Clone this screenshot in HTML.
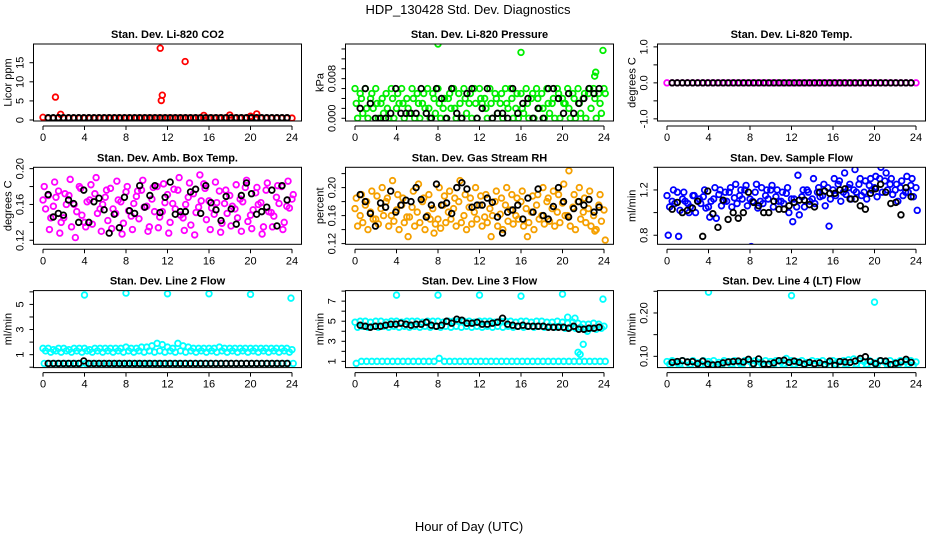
<!DOCTYPE html>
<html><head><meta charset="utf-8"><style>
html,body{margin:0;padding:0;background:#fff}
svg{display:block;font-family:"Liberation Sans",Arial,sans-serif}
</style></head><body>
<svg id="c" width="936" height="540" viewBox="0 0 936 540">
<text x="468" y="14" font-size="13" text-anchor="middle">HDP_130428  Std. Dev. Diagnostics</text>
<text x="469" y="531" font-size="13" text-anchor="middle">Hour of Day (UTC)</text>
</svg>
<script>
const hoursTicks=[0,4,8,12,16,20,24];
const titles=["Stan. Dev. Li-820 CO2","Stan. Dev. Li-820 Pressure","Stan. Dev. Li-820 Temp.","Stan. Dev. Amb. Box Temp.","Stan. Dev. Gas Stream RH","Stan. Dev. Sample Flow","Stan. Dev. Line 2 Flow","Stan. Dev. Line 3 Flow","Stan. Dev. Line 4 (LT) Flow"];
const ylabs=["Licor ppm","kPa","degrees C","degrees C","percent","ml/min","ml/min","ml/min","ml/min"];
const colors=["#ff0000","#00ee00","#ff00ff","#ff00ff","#f5a000","#0000ff","#00ffff","#00ffff","#00ffff"];
const yDomains=[[-0.26,19.9],[-0.00055,0.0150],[-1.06,1.08],[0.1155,0.2015],[0.119,0.229],[0.72,1.4],[-0.03,6.1],[0.38,8.05],[0.074,0.2516]];
const yTicks=[[0,5,10,15],[0,0.002,0.004,0.006,0.008,0.010,0.012,0.014],[-1,-0.5,0,0.5,1],[0.12,0.14,0.16,0.18,0.20],[0.12,0.14,0.16,0.18,0.20,0.22],[0.8,1.0,1.2,1.4],[0,1,2,3,4,5,6],[1,2,3,4,5,6,7,8],[0.10,0.15,0.20,0.25]];
const yTickLabels=[["0","5","10","15"],["0.000","","","","0.008","","",""],["-1.0","","0.0","","1.0"],["0.12","","0.16","","0.20"],["0.12","","0.16","","0.20",""],["0.8","","1.2",""],["","1","","3","","5",""],["1","","3","","5","","7",""],["0.10","","0.20",""]];

const co2A=[0.7,0.5,0.5,0.6,0.5,0.5,0.5,0.5,0.5,0.5,0.5,0.5,0.5,0.5,0.5,0.5,0.5,0.5,0.5,0.5,0.5,0.5,0.5,0.5,0.5,0.5,0.5,0.5,0.5,0.5,0.5,0.5,0.5,0.5,0.5,0.5,0.5,0.5,0.5,0.5,0.5,0.5,0.5,0.5,0.5,0.5,0.5,0.5,0.5];
const co2OutH=[1.2,1.7,11.3,11.4,11.5,13.7,15.5,18.0,20.0,20.6];
const co2OutV=[6.0,1.5,18.8,5.1,6.5,15.3,1.2,1.3,1.0,1.6];
const co2Blk=[0.6,0.6,0.6,0.6,0.6,0.6,0.6,0.6,0.6,0.6,0.6,0.6,0.6,0.6,0.6,0.6,0.6,0.6,0.6,0.6,0.6,0.6,0.6,0.6,0.6,0.6,0.6,0.6,0.6,0.6,0.6,0.6,0.6,0.6,0.6,0.6,0.6,0.6,0.6,0.6,0.6,0.6,0.6,0.6,0.6,0.6,0.6,0.6];

const prA=[0.006,0.005,0.006,0.004,0.006,0.003,0.005,0.006,0.002,0.006,0.004,0.006,0.005,0.003,0.006,0.005,0.006,0.002,0.004,0.006,0.005,0.006,0.003,0.006,0.006,0.004,0.006,0.005,0.003,0.006,0.006,0.002,0.005,0.006,0.004,0.006,0.005,0.006,0.003,0.006,0.004,0.006,0.005,0.006,0.004,0.005,0.006,0.005,0.006];
const prB=[0,0.001,0,0.002,0,0.001,0,0,0.003,0,0.001,0,0,0.002,0,0.001,0,0,0.002,0,0,0.001,0,0,0.003,0,0,0.001,0,0.002,0,0,0.001,0,0,0.002,0,0.001,0,0,0.003,0,0,0.001,0,0.002,0,0.001,0];
const prC=[0.003,0.004,0.002,0.005,0.003,0.004,0.002,0.004,0.005,0.003,0.002,0.004,0.003,0.005,0.002,0.004,0.003,0.004,0.005,0.002,0.003,0.004,0.005,0.003,0.004,0.002,0.003,0.004,0.005,0.003,0.004,0.005,0.002,0.003,0.005,0.004,0.002,0.003,0.004,0.005,0.003,0.002,0.004,0.003,0.005,0.006,0.004,0.003,0.005];
const prOutH=[8.0,16.0,23.9,23.2,23.1];
const prOutV=[0.0150,0.0133,0.0137,0.0093,0.0085];
const prBlk=[0.002,0.006,0.003,0,0,0,0.001,0.006,0.001,0.001,0.001,0.001,0.006,0.001,0,0.006,0.004,0,0.006,0.001,0,0.005,0.006,0,0.002,0.006,0,0.001,0.001,0,0.006,0.001,0.003,0.004,0,0.002,0,0.006,0.006,0.004,0.001,0.005,0.001,0.003,0.004,0.006,0.005,0.006];

const tmA=[0,0,0,0,0,0,0,0,0,0,0,0,0,0,0,0,0,0,0,0,0,0,0,0,0,0,0,0,0,0,0,0,0,0,0,0,0,0,0,0,0,0,0,0,0,0,0,0,0];
const tmBlk=[0,0,0,0,0,0,0,0,0,0,0,0,0,0,0,0,0,0,0,0,0,0,0,0,0,0,0,0,0,0,0,0,0,0,0,0,0,0,0,0,0,0,0,0,0,0,0,0];

const abA=[0.165,0.17,0.158,0.175,0.145,0.17,0.16,0.18,0.14,0.165,0.172,0.155,0.168,0.178,0.15,0.163,0.174,0.147,0.169,0.176,0.158,0.166,0.18,0.152,0.171,0.161,0.176,0.145,0.168,0.172,0.157,0.183,0.164,0.149,0.175,0.161,0.17,0.155,0.166,0.179,0.148,0.173,0.162,0.176,0.151,0.168,0.18,0.158,0.166];
const abB=[0.155,0.145,0.168,0.14,0.16,0.135,0.152,0.148,0.163,0.138,0.15,0.16,0.142,0.155,0.165,0.139,0.153,0.161,0.144,0.157,0.135,0.152,0.146,0.162,0.14,0.155,0.148,0.16,0.137,0.151,0.164,0.143,0.156,0.162,0.139,0.15,0.158,0.145,0.163,0.141,0.154,0.16,0.135,0.152,0.147,0.161,0.14,0.156,0.15];
const abC=[0.18,0.132,0.185,0.128,0.172,0.188,0.123,0.178,0.135,0.182,0.19,0.13,0.176,0.133,0.186,0.127,0.18,0.132,0.175,0.187,0.13,0.179,0.134,0.183,0.128,0.177,0.19,0.131,0.184,0.126,0.193,0.178,0.132,0.185,0.129,0.176,0.136,0.182,0.13,0.187,0.133,0.179,0.127,0.184,0.135,0.181,0.132,0.186,0.171];
const abBlk=[0.171,0.146,0.15,0.148,0.165,0.161,0.14,0.176,0.14,0.163,0.167,0.154,0.128,0.149,0.134,0.168,0.153,0.15,0.181,0.157,0.17,0.181,0.151,0.168,0.185,0.149,0.152,0.152,0.174,0.177,0.15,0.181,0.162,0.154,0.142,0.169,0.155,0.138,0.17,0.184,0.172,0.149,0.152,0.157,0.176,0.136,0.181,0.165];

const rhA=[0.17,0.16,0.175,0.165,0.155,0.17,0.18,0.16,0.168,0.175,0.158,0.172,0.165,0.18,0.16,0.17,0.155,0.175,0.165,0.17,0.18,0.16,0.172,0.165,0.175,0.158,0.17,0.18,0.162,0.175,0.168,0.16,0.18,0.17,0.165,0.175,0.16,0.18,0.17,0.165,0.178,0.16,0.172,0.18,0.165,0.17,0.16,0.175,0.168];
const rhB=[0.145,0.15,0.14,0.155,0.148,0.16,0.145,0.152,0.14,0.15,0.158,0.145,0.15,0.14,0.155,0.148,0.142,0.15,0.155,0.145,0.15,0.14,0.148,0.155,0.145,0.15,0.16,0.145,0.14,0.152,0.148,0.155,0.145,0.15,0.14,0.155,0.148,0.152,0.145,0.15,0.16,0.145,0.14,0.155,0.15,0.145,0.14,0.152,0.15];
const rhC=[0.185,0.19,0.18,0.195,0.188,0.2,0.185,0.21,0.19,0.185,0.13,0.195,0.205,0.185,0.19,0.135,0.2,0.188,0.195,0.185,0.21,0.19,0.185,0.2,0.188,0.19,0.13,0.195,0.185,0.2,0.19,0.185,0.195,0.13,0.188,0.19,0.2,0.185,0.195,0.19,0.205,0.224,0.19,0.2,0.185,0.195,0.138,0.19,0.125];
const rhBlk=[0.19,0.18,0.163,0.145,0.178,0.172,0.195,0.165,0.175,0.182,0.18,0.2,0.183,0.158,0.175,0.205,0.175,0.178,0.163,0.2,0.207,0.198,0.172,0.175,0.175,0.185,0.179,0.158,0.135,0.165,0.168,0.175,0.155,0.185,0.165,0.198,0.16,0.155,0.173,0.2,0.18,0.158,0.17,0.18,0.175,0.183,0.165,0.172];

const sfA=[1.15,1.1,1.18,1.12,1.08,1.15,1.1,1.14,1.05,1.12,1.16,1.1,1.18,1.13,1.15,1.2,1.12,1.18,1.1,1.15,1.2,1.14,1.1,1.17,1.12,1.05,1.14,1.2,1.12,1.18,1.15,1.22,1.2,1.25,1.18,1.22,1.2,1.25,1.18,1.24,1.22,1.3,1.28,1.25,1.2,1.22,1.18,1.24,1.22];
const sfB=[1.05,1.08,1.02,1.1,1.05,1.0,1.08,1.04,1.1,0.95,1.06,1.1,1.05,1.08,1.12,1.06,1.1,1.04,1.08,1.12,1.05,1.1,1.08,1.0,1.12,0.98,1.05,1.1,1.08,1.14,1.06,1.12,1.15,1.1,1.16,1.12,1.18,1.15,1.12,1.2,1.14,1.18,1.2,1.16,1.1,1.15,1.18,1.14,1.12];
const sfC=[0.8,1.2,0.79,1.18,1.0,1.15,1.12,1.2,0.96,1.22,1.2,1.18,1.22,1.25,1.2,1.24,0.7,1.25,1.22,1.2,1.24,1.2,1.18,1.22,0.92,1.33,1.2,1.18,1.3,1.22,1.25,0.88,1.3,1.28,1.35,1.25,1.38,1.3,1.28,1.3,1.32,1.4,1.35,1.3,1.25,1.28,1.32,1.3,1.02];
const sfBlk=[1.03,1.09,1.0,1.02,1.04,1.1,0.79,1.19,0.99,0.87,1.11,0.94,1.0,0.95,1.0,1.18,1.09,1.06,1.0,1.0,1.1,1.03,1.03,1.06,1.09,1.11,1.11,1.07,1.05,1.18,1.19,1.17,1.17,1.2,1.21,1.12,1.12,1.06,1.03,1.17,1.21,1.25,1.18,1.08,1.09,0.98,1.22,1.14];

const l2A=[1.5,1.5,1.4,1.5,1.5,1.4,1.5,1.5,1.5,1.4,1.5,1.5,1.5,1.5,1.5,1.5,1.6,1.5,1.5,1.6,1.6,1.7,1.9,1.8,1.6,1.5,1.9,1.7,1.6,1.5,1.5,1.5,1.5,1.5,1.6,1.5,1.5,1.5,1.5,1.5,1.5,1.5,1.5,1.5,1.5,1.5,1.5,1.5,1.4];
const l2B=[1.3,1.2,1.3,1.2,1.3,1.2,1.3,1.2,1.3,1.2,1.3,1.2,1.3,1.2,1.3,1.2,1.3,1.2,1.3,1.2,1.3,1.2,1.3,1.2,1.3,1.2,1.3,1.2,1.3,1.2,1.3,1.2,1.3,1.2,1.3,1.2,1.3,1.2,1.3,1.2,1.3,1.2,1.3,1.2,1.3,1.2,1.3,1.2,1.1];
const l2C=[0.3,0.3,0.3,0.3,0.3,0.3,0.3,0.3,0.3,0.3,0.3,0.3,0.3,0.3,0.3,0.3,0.3,0.3,0.3,0.3,0.3,0.3,0.3,0.3,0.3,0.3,0.3,0.3,0.3,0.3,0.3,0.3,0.3,0.3,0.3,0.3,0.3,0.3,0.3,0.3,0.3,0.3,0.3,0.3,0.3,0.3,0.3,0.3,0.3];
const l2OutH=[4.0,8.0,12.0,16.0,20.0,23.9];
const l2OutV=[5.75,5.9,5.85,5.85,5.8,5.5];
const l2Blk=[0.3,0.3,0.3,0.3,0.3,0.3,0.3,0.5,0.3,0.3,0.3,0.3,0.3,0.3,0.3,0.3,0.3,0.3,0.3,0.3,0.3,0.3,0.3,0.3,0.3,0.3,0.3,0.3,0.3,0.3,0.3,0.3,0.3,0.3,0.3,0.3,0.3,0.3,0.3,0.3,0.3,0.3,0.3,0.3,0.3,0.3,0.3,0.3];

const l3A=[4.9,5.0,5.0,4.9,5.0,5.0,4.9,5.0,5.0,4.9,5.0,5.0,5.0,4.9,5.0,5.0,5.0,4.9,5.0,5.0,5.0,5.0,5.0,4.9,5.0,5.0,5.0,4.9,5.0,5.0,5.0,4.9,5.0,5.0,4.9,5.0,5.0,4.9,4.9,5.0,4.9,4.8,4.9,4.8,4.7,4.7,4.8,4.7,4.5];
const l3B=[4.4,4.5,4.4,4.5,4.4,4.5,4.4,4.5,4.4,4.5,4.4,4.5,4.4,4.5,4.4,4.5,4.4,4.5,4.4,4.5,4.4,4.5,4.4,4.5,4.4,4.5,4.4,4.5,4.4,4.5,4.4,4.5,4.4,4.5,4.4,4.5,4.4,4.5,4.4,4.5,4.3,4.4,4.3,4.4,4.2,4.3,4.2,4.3,4.3];
const l3C=[0.8,1.0,1.0,1.0,1.0,1.0,1.0,1.0,1.0,1.0,1.0,1.0,1.0,1.0,1.0,1.0,1.3,1.0,1.0,1.0,1.0,1.0,1.0,1.0,1.0,1.0,1.0,1.0,1.0,1.0,1.0,1.0,1.0,1.0,1.0,1.0,1.0,1.0,1.0,1.0,1.0,1.0,1.0,1.0,1.0,1.0,1.0,1.0,1.0];
const l3OutH=[4.0,8.0,12.0,16.0,20.0,23.9,21.5,21.7,22.0,22.4,20.5,21.2];
const l3OutV=[7.6,7.6,7.6,7.5,7.7,7.2,1.9,1.7,2.7,4.0,5.4,5.3];
const l3Blk=[4.6,4.5,4.4,4.5,4.5,4.6,4.7,4.7,4.8,4.7,4.6,4.7,4.7,4.9,4.6,4.5,4.6,5.0,4.8,5.2,5.1,4.8,4.8,4.9,4.7,4.7,4.8,4.9,5.3,4.7,4.6,4.5,4.6,4.5,4.5,4.5,4.5,4.4,4.4,4.4,4.4,4.3,4.5,4.2,4.2,4.3,4.3,4.4];

const l4A=[0.088,0.09,0.085,0.09,0.087,0.09,0.085,0.09,0.088,0.09,0.086,0.09,0.088,0.09,0.085,0.09,0.088,0.09,0.086,0.09,0.088,0.09,0.087,0.095,0.09,0.088,0.09,0.086,0.09,0.088,0.09,0.086,0.09,0.088,0.09,0.092,0.094,0.09,0.088,0.09,0.085,0.09,0.087,0.09,0.086,0.09,0.088,0.09,0.087];
const l4B=[0.082,0.08,0.083,0.08,0.082,0.079,0.082,0.08,0.083,0.08,0.082,0.08,0.083,0.08,0.082,0.078,0.082,0.08,0.083,0.08,0.082,0.08,0.083,0.08,0.082,0.08,0.083,0.08,0.082,0.079,0.082,0.08,0.083,0.08,0.082,0.08,0.083,0.08,0.082,0.08,0.083,0.078,0.082,0.08,0.083,0.08,0.082,0.08,0.078];
const l4OutH=[4.0,12.0,20.0];
const l4OutV=[0.248,0.24,0.225];
const l4Blk=[0.086,0.088,0.09,0.087,0.088,0.083,0.089,0.082,0.08,0.081,0.085,0.087,0.088,0.089,0.087,0.093,0.083,0.094,0.082,0.082,0.085,0.09,0.091,0.086,0.089,0.086,0.082,0.086,0.083,0.085,0.081,0.089,0.079,0.088,0.087,0.086,0.089,0.095,0.099,0.088,0.083,0.09,0.089,0.081,0.084,0.087,0.093,0.086];

const colorSeries=[[co2A],[prA,prB,prC],[tmA],[abA,abB,abC],[rhA,rhB,rhC],[sfA,sfB,sfC],[l2A,l2B,l2C],[l3A,l3B,l3C],[l4A,l4B]];
const outH=[co2OutH,prOutH,[],[],[],[],l2OutH,l3OutH,l4OutH];
const outV=[co2OutV,prOutV,[],[],[],[],l2OutV,l3OutV,l4OutV];
const blackSeries=[co2Blk,prBlk,tmBlk,abBlk,rhBlk,sfBlk,l2Blk,l3Blk,l4Blk];

const NS="http://www.w3.org/2000/svg";
const svg=document.getElementById('c');
function mk(tag,attrs,parent){const e=document.createElementNS(NS,tag);for(const k in attrs)e.setAttribute(k,attrs[k]);(parent||svg).appendChild(e);return e;}

for(let p=0;p<9;p++){
  const col=p%3,row=Math.floor(p/3);
  const x0=43+312*col, pxh=249/24;
  const L=x0-9.5,R=x0+249+9.5;
  const T=44+123.3*row,B=T+77;
  const [ymin,ymax]=yDomains[p];
  const xs=h=>x0+h*pxh;
  const ys=v=>B-(v-ymin)/(ymax-ymin)*(B-T);
  const g=mk('g',{});
  
  
  const t=mk('text',{x:(L+R)/2,y:T-6,'font-size':11,'font-weight':'bold','text-anchor':'middle'},g);
  t.textContent=titles[p];
  
  
  const cp=mk('clipPath',{id:'cp'+p},g);
  mk('rect',{x:L,y:T,width:R-L,height:B-T},cp);
  const pts=mk('g',{'clip-path':'url(#cp'+p+')',fill:'none','stroke-width':1.8},g);
  
  
  colorSeries[p].forEach((s,si)=>{
    s.forEach((v,i)=>{
      const h=i*0.5+(si===1?0.25:0)+(si===2?0.12:0);
      if(h>24.2)return;
      const c=mk('circle',{cx:xs(h),cy:ys(v),r:2.8,stroke:colors[p]},pts);
      
      
    });
  });
  outH[p].forEach((h,i)=>{
    const c=mk('circle',{cx:xs(h),cy:ys(outV[p][i]),r:2.8,stroke:colors[p]},pts);
    
    
  });
  blackSeries[p].forEach((v,i)=>{
    const c=mk('circle',{cx:xs(0.5+i*0.49),cy:ys(v),r:2.8,stroke:'#000'},pts);
    
    
  });
  const box=mk('rect',{x:L,y:T,width:R-L,height:B-T,fill:'none',stroke:'#000','stroke-width':1},g);
  
  
  mk('line',{x1:xs(0),x2:xs(24),y1:B+5,y2:B+5,stroke:'#000'},g);
  hoursTicks.forEach(h=>{
    mk('line',{x1:xs(h),x2:xs(h),y1:B+5,y2:B+9,stroke:'#000'},g);
    const tl=mk('text',{x:xs(h),y:B+20,'font-size':11,'text-anchor':'middle'},g);
    tl.textContent=h;
    
    
  });
  const yt=yTicks[p];
  yt.forEach((v,i)=>{
    const y=ys(v);
    mk('line',{x1:L-4,x2:L,y1:y,y2:y,stroke:'#000'},g);
    const lab=yTickLabels[p][i];
    if(lab){
      const tx=L-10;
      const tl=mk('text',{x:tx,y:y,'font-size':11,'text-anchor':'middle',transform:`rotate(-90 ${tx} ${y})`},g);
      tl.textContent=lab;
      
      
    }
  });
  const lx=L-22;
  const yl=mk('text',{x:lx,y:(T+B)/2,'font-size':11,'text-anchor':'middle',transform:`rotate(-90 ${lx} ${(T+B)/2})`},g);
  yl.textContent=ylabs[p];
  
  
}
</script>
</body></html>
